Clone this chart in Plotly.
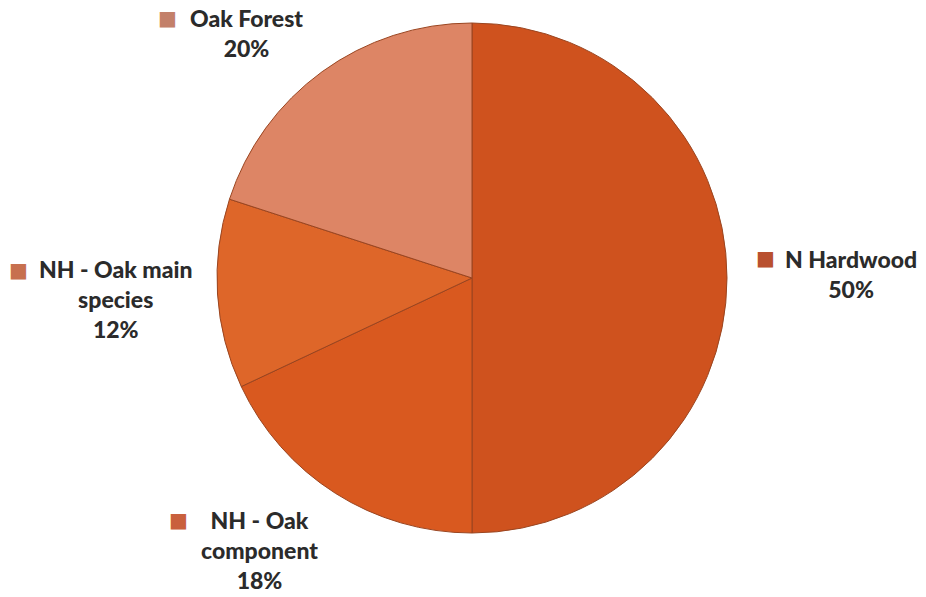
import plotly.graph_objects as go

# Forest type composition
categories = ["N Hardwood", "NH - Oak component", "NH - Oak main species", "Oak Forest"]
shares = [50, 18, 12, 20]
label_lines = ["N Hardwood", "NH - Oak<br>component", "NH - Oak main<br>species", "Oak Forest"]

slice_colors = ["#cf521e", "#d9591f", "#de6629", "#dd8565"]
key_colors = ["#b9502f", "#c9603d", "#c7704f", "#c3806a"]

# label block placement (paper coords: text centre x, top y; key square x, y)
label_pos = {
    "N Hardwood": (851, 243, 765, 258),
    "NH - Oak component": (259, 504, 178, 520),
    "NH - Oak main species": (116, 253, 18, 270),
    "Oak Forest": (246, 2, 167, 18),
}

W, H = 926, 597
cx, cy, r = 472, 278, 255

fig = go.Figure(
    go.Pie(
        labels=categories,
        values=shares,
        sort=False,
        direction="clockwise",
        rotation=0,
        textinfo="none",
        hoverinfo="label+percent",
        marker=dict(colors=slice_colors, line=dict(color="#9a4520", width=1)),
        domain=dict(x=[(cx - r) / W, (cx + r) / W], y=[1 - (cy + r) / H, 1 - (cy - r) / H]),
        showlegend=False,
    )
)

font = dict(family="Lato, 'Open Sans', sans-serif", size=23, color="#2b2b2b", weight=900)
for cat, val, lines, kc in zip(categories, shares, label_lines, key_colors):
    tx, ty, kx, ky = label_pos[cat]
    fig.add_annotation(
        x=tx / W, y=1 - ty / H, xref="paper", yref="paper",
        xanchor="center", yanchor="top", showarrow=False, align="center",
        text=f"{lines}<br>{val}%", font=font,
    )
    fig.add_annotation(
        x=kx / W, y=1 - ky / H, xref="paper", yref="paper",
        xanchor="center", yanchor="middle", showarrow=False,
        text="■", font=dict(family="DejaVu Sans", size=20, color=kc),
    )

fig.update_layout(
    width=W, height=H,
    margin=dict(l=0, r=0, t=0, b=0),
    paper_bgcolor="white",
    plot_bgcolor="white",
)

fig.write_html("out.html")
